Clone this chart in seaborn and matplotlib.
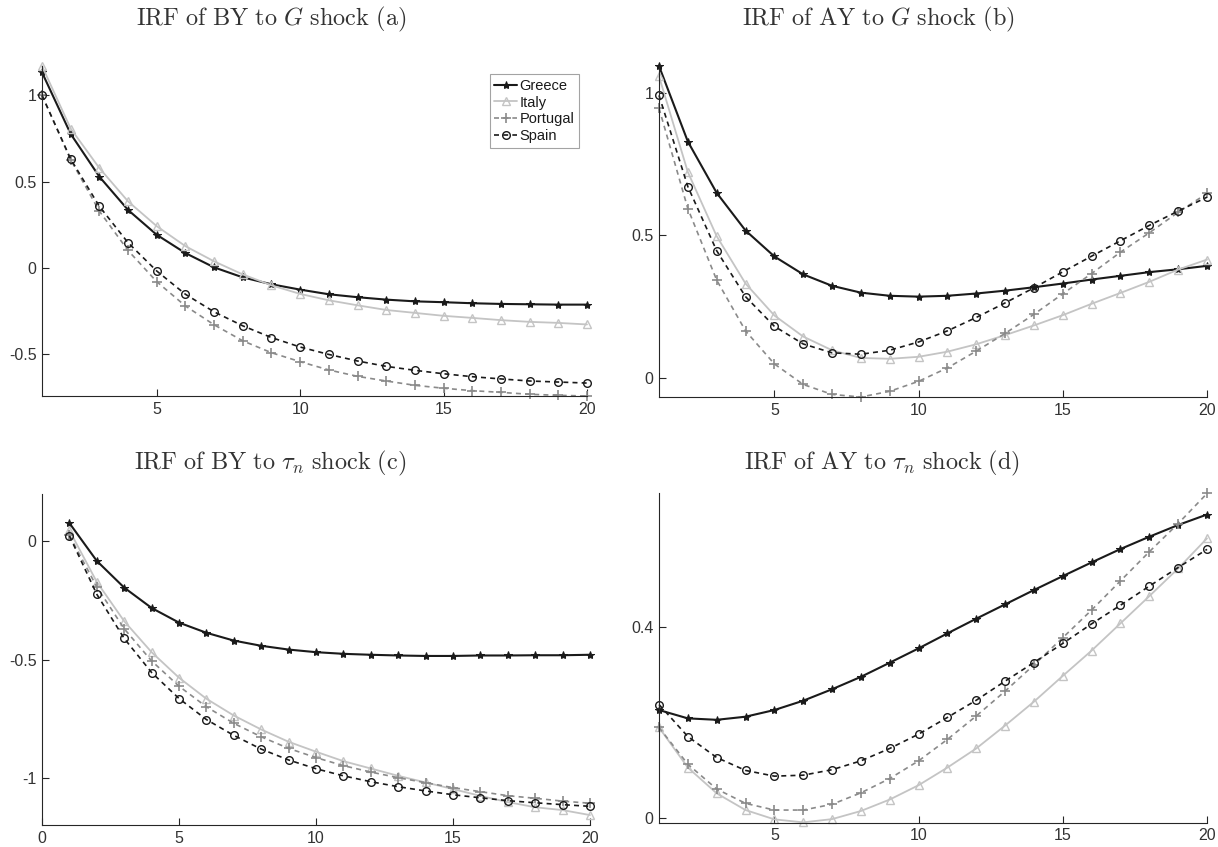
import matplotlib
matplotlib.use("Agg")
import matplotlib.pyplot as plt
import seaborn as sns
import pandas as pd

# ---------------- data ----------------
periods = list(range(1, 21))
countries = ["Greece", "Italy", "Portugal", "Spain"]

# (a) IRF of BY to G shock
by_g_greece = [1.133, 0.776, 0.528, 0.335, 0.191, 0.085, 0.002, -0.056, -0.096, -0.127,
               -0.154, -0.171, -0.185, -0.195, -0.200, -0.206, -0.210, -0.212, -0.214, -0.214]
by_g_italy = [1.170, 0.807, 0.578, 0.385, 0.241, 0.125, 0.037, -0.039, -0.102, -0.152,
              -0.189, -0.218, -0.245, -0.262, -0.279, -0.291, -0.304, -0.314, -0.320, -0.329]
by_g_portugal = [1.000, 0.626, 0.328, 0.100, -0.081, -0.222, -0.331, -0.424, -0.493, -0.545,
                 -0.593, -0.630, -0.657, -0.682, -0.699, -0.713, -0.723, -0.734, -0.740, -0.744]
by_g_spain = [1.000, 0.630, 0.356, 0.145, -0.019, -0.154, -0.256, -0.337, -0.405, -0.460,
              -0.503, -0.541, -0.572, -0.595, -0.615, -0.632, -0.645, -0.657, -0.663, -0.669]

# (b) IRF of AY to G shock
ay_g_greece = [1.094, 0.829, 0.649, 0.517, 0.426, 0.363, 0.323, 0.299, 0.288, 0.285,
               0.288, 0.296, 0.306, 0.318, 0.331, 0.345, 0.358, 0.371, 0.381, 0.393]
ay_g_italy = [1.058, 0.722, 0.497, 0.331, 0.219, 0.145, 0.097, 0.070, 0.067, 0.074,
              0.092, 0.118, 0.150, 0.184, 0.220, 0.260, 0.298, 0.337, 0.380, 0.415]
ay_g_portugal = [0.946, 0.594, 0.343, 0.165, 0.049, -0.023, -0.058, -0.067, -0.047, -0.012,
                 0.035, 0.094, 0.156, 0.223, 0.295, 0.366, 0.441, 0.509, 0.581, 0.647]
ay_g_spain = [0.991, 0.671, 0.446, 0.285, 0.181, 0.119, 0.088, 0.083, 0.097, 0.126,
              0.165, 0.212, 0.263, 0.316, 0.372, 0.427, 0.481, 0.535, 0.585, 0.634]

# (c) IRF of BY to tau_n shock
by_t_greece = [0.077, -0.083, -0.196, -0.282, -0.344, -0.387, -0.420, -0.442, -0.458, -0.469,
               -0.476, -0.480, -0.483, -0.485, -0.485, -0.483, -0.483, -0.482, -0.482, -0.480]
by_t_italy = [0.046, -0.172, -0.338, -0.469, -0.577, -0.666, -0.737, -0.796, -0.848, -0.890,
              -0.930, -0.961, -0.992, -1.020, -1.048, -1.077, -1.103, -1.125, -1.137, -1.158]
by_t_portugal = [0.025, -0.193, -0.370, -0.506, -0.613, -0.700, -0.770, -0.827, -0.876, -0.915,
                 -0.949, -0.976, -1.000, -1.021, -1.042, -1.059, -1.076, -1.087, -1.099, -1.108]
by_t_spain = [0.023, -0.224, -0.411, -0.555, -0.665, -0.754, -0.821, -0.879, -0.925, -0.962,
              -0.992, -1.017, -1.038, -1.056, -1.072, -1.085, -1.097, -1.106, -1.114, -1.121]

# (d) IRF of AY to tau_n shock
ay_t_greece = [0.2255, 0.208, 0.205, 0.2115, 0.2255, 0.245, 0.269, 0.295, 0.3246, 0.3546,
               0.386, 0.4168, 0.4468, 0.4768, 0.506, 0.5347, 0.5627, 0.5885, 0.613, 0.635]
ay_t_italy = [0.189, 0.105, 0.051, 0.016, -0.0035, -0.0098, -0.003, 0.014, 0.038, 0.068,
              0.105, 0.145, 0.193, 0.243, 0.297, 0.350, 0.407, 0.464, 0.522, 0.585]
ay_t_portugal = [0.189, 0.112, 0.060, 0.030, 0.016, 0.016, 0.028, 0.052, 0.082, 0.119,
                 0.164, 0.213, 0.265, 0.320, 0.377, 0.435, 0.496, 0.557, 0.616, 0.679]
ay_t_spain = [0.237, 0.170, 0.126, 0.099, 0.087, 0.089, 0.1005, 0.119, 0.145, 0.175,
              0.210, 0.246, 0.286, 0.325, 0.365, 0.406, 0.445, 0.485, 0.524, 0.562]

titles = [
    r"$\mathrm{IRF\ of\ BY\ to\ }G\mathrm{\ shock\ (a)}$",
    r"$\mathrm{IRF\ of\ AY\ to\ }G\mathrm{\ shock\ (b)}$",
    r"$\mathrm{IRF\ of\ BY\ to\ }\tau_n\mathrm{\ shock\ (c)}$",
    r"$\mathrm{IRF\ of\ AY\ to\ }\tau_n\mathrm{\ shock\ (d)}$",
]
xticks_ab = [5, 10, 15, 20]
xticks_c = [0, 5, 10, 15, 20]
yticks_a = [-0.5, 0, 0.5, 1]
yticks_b = [0, 0.5, 1]
yticks_c = [-1, -0.5, 0]
yticks_d = [0, 0.4]
ytick_labels_a = ["-0.5", "0", "0.5", "1"]
ytick_labels_b = ["0", "0.5", "1"]
ytick_labels_c = ["-1", "-0.5", "0"]
ytick_labels_d = ["0", "0.4"]

# ---------------- style ----------------
sns.set_theme(style="white")
plt.rcParams["font.family"] = ["Liberation Sans", "DejaVu Sans"]
plt.rcParams["mathtext.fontset"] = "cm"
plt.rcParams["axes.unicode_minus"] = False

styles = {
    "Greece": dict(color="#1a1a1a", linestyle="-", marker="*", markersize=6,
                   markerfacecolor="#1a1a1a", markeredgecolor="#1a1a1a", linewidth=1.5),
    "Italy": dict(color="#c4c4c4", linestyle="-", marker="^", markersize=5.5,
                  markerfacecolor="none", markeredgecolor="#c4c4c4", markeredgewidth=1.0, linewidth=1.3),
    "Portugal": dict(color="#8a8a8a", linestyle=(0, (3, 2.5)), marker="+", markersize=6.5,
                     markeredgecolor="#8a8a8a", markeredgewidth=1.2, linewidth=1.2),
    "Spain": dict(color="#1a1a1a", linestyle=(0, (3, 2.5)), marker="o", markersize=5.5,
                  markerfacecolor="none", markeredgecolor="#1a1a1a", markeredgewidth=1.0, linewidth=1.2),
}

W, H = 1218, 847
fig = plt.figure(figsize=(W / 100, H / 100), dpi=100)

def box(l, r, t, b):
    return [l / W, 1 - b / H, (r - l) / W, (b - t) / H]

ax_a = fig.add_axes(box(42, 587, 66, 396))
ax_b = fig.add_axes(box(659, 1207, 66, 397))
ax_c = fig.add_axes(box(42, 590, 494, 825))
ax_d = fig.add_axes(box(659, 1207, 493.5, 822.7))

panels = [
    (ax_a, [by_g_greece, by_g_italy, by_g_portugal, by_g_spain], (1, 20), (-0.744, 1.17),
     xticks_ab, yticks_a, ytick_labels_a),
    (ax_b, [ay_g_greece, ay_g_italy, ay_g_portugal, ay_g_spain], (1, 20), (-0.067, 1.094),
     xticks_ab, yticks_b, ytick_labels_b),
    (ax_c, [by_t_greece, by_t_italy, by_t_portugal, by_t_spain], (0, 20), (-1.2, 0.2),
     xticks_c, yticks_c, ytick_labels_c),
    (ax_d, [ay_t_greece, ay_t_italy, ay_t_portugal, ay_t_spain], (1, 20), (-0.0105, 0.679),
     xticks_ab, yticks_d, ytick_labels_d),
]

title_pos = [(271, 19), (878, 19), (270, 463), (882, 463)]

for i, (ax, series, xl, yl, xt, yt, ytl) in enumerate(panels):
    for name, vals in zip(countries, series):
        df = pd.DataFrame({"period": periods, "value": vals})
        sns.lineplot(data=df, x="period", y="value", ax=ax, label=name if i == 0 else None,
                     clip_on=False, **styles[name])
    ax.set_xlim(*xl)
    ax.set_ylim(*yl)
    ax.set_xticks(xt)
    ax.set_xticklabels([str(v) for v in xt])
    ax.set_yticks(yt)
    ax.set_yticklabels(ytl)
    ax.set_xlabel("")
    ax.set_ylabel("")
    for s in ["top", "right"]:
        ax.spines[s].set_visible(False)
    for s in ["left", "bottom"]:
        ax.spines[s].set_color("#262626")
        ax.spines[s].set_linewidth(0.8)
    ax.tick_params(direction="in", length=5, width=0.8, colors="#262626",
                   labelsize=11.5, pad=4, left=True, bottom=True)
    for lbl in ax.get_xticklabels() + ax.get_yticklabels():
        lbl.set_color("#333333")
    ax.set_facecolor("white")
    if i != 0 and ax.get_legend() is not None:
        ax.get_legend().remove()
    fig.text(title_pos[i][0] / W, 1 - title_pos[i][1] / H, titles[i], ha="center", va="center",
             fontsize=17.5, color="#333333")

leg = ax_a.legend(loc="upper right", bbox_to_anchor=(0.985, 0.975), fontsize=10.5,
                  frameon=True, fancybox=False, edgecolor="#8c8c8c", handlelength=1.6,
                  handletextpad=0.15, borderpad=0.3, labelspacing=0.2, borderaxespad=0.0)
leg.get_frame().set_linewidth(0.8)
for t in leg.get_texts():
    t.set_color("#1a1a1a")

fig.savefig("out.png", dpi=100, facecolor="white")
